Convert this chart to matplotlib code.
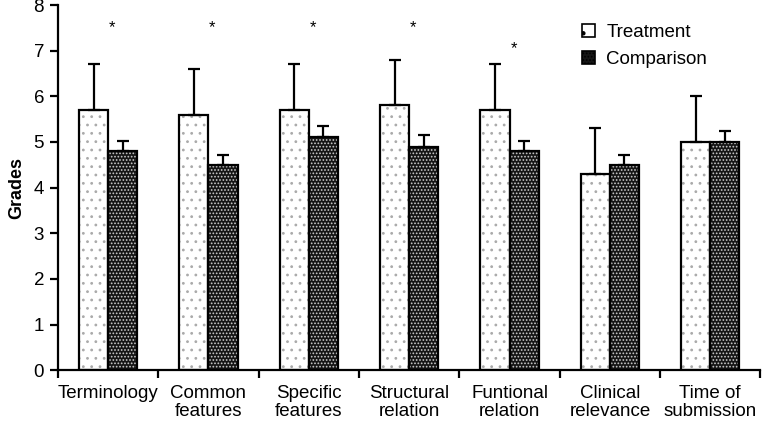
import numpy as np
import matplotlib
matplotlib.use('Agg')
import matplotlib.pyplot as plt
from matplotlib.patches import Patch

plt.rcParams['font.family'] = ['Liberation Sans', 'DejaVu Sans']
plt.rcParams['hatch.linewidth'] = 0.8

categories = ['Terminology', 'Common\nfeatures', 'Specific\nfeatures', 'Structural\nrelation',
              'Funtional\nrelation', 'Clinical\nrelevance', 'Time of\nsubmission']
treatment = [5.7, 5.6, 5.7, 5.8, 5.7, 4.3, 5.0]
treatment_err = [1.0, 1.0, 1.0, 1.0, 1.0, 1.0, 1.0]
comparison = [4.8, 4.5, 5.1, 4.9, 4.8, 4.5, 5.0]
comparison_err = [0.23, 0.22, 0.25, 0.25, 0.23, 0.22, 0.25]
star_y = [7.5, 7.5, 7.5, 7.5, 7.05]

fig = plt.figure(figsize=(7.62, 4.24), dpi=100)
ax = fig.add_axes([0.076, 0.127, 0.922, 0.861])
x = np.arange(len(categories))
w = 0.29
n = len(categories)

# hatched fills
ax.bar(x - w/2, treatment, w, color='white', edgecolor='#aaaaaa', hatch='..', linewidth=0)
ax.bar(x + w/2, comparison, w, color='#151515', edgecolor='#cccccc', hatch='.....', linewidth=0)
# outlines + error bars (upper only)
ekw = dict(capsize=4, elinewidth=1.6, capthick=1.6, ecolor='black')
ax.bar(x - w/2, treatment, w, fill=False, edgecolor='black', linewidth=1.6,
       yerr=[[0] * n, treatment_err], error_kw=ekw)
ax.bar(x + w/2, comparison, w, fill=False, edgecolor='black', linewidth=1.6,
       yerr=[[0] * n, comparison_err], error_kw=ekw)

for i, y in enumerate(star_y):
    ax.text(i + 0.04, y, '*', ha='center', va='center', fontsize=12)

# legend proxies
h1 = Patch(facecolor='white', edgecolor='black', hatch='.', linewidth=1.2)
h2 = Patch(facecolor='#151515', edgecolor='black', hatch='.....', linewidth=1.2)
ax.legend([h1, h2], ['Treatment', 'Comparison'], loc='upper right', bbox_to_anchor=(0.935, 0.97),
          frameon=False, fontsize=13.5, handlelength=0.7, handleheight=0.7, handletextpad=0.6,
          labelspacing=0.55, borderaxespad=0)

ax.set_xlim(-0.5, n - 0.5)
ax.set_ylim(0, 8)
ax.set_yticks(range(9))
ax.set_xticks(x)
ax.set_xticklabels(categories, fontsize=13.5, linespacing=1.05)
ax.set_xticks(np.arange(-0.5, n), minor=True)
ax.tick_params(axis='x', which='major', length=0, pad=11)
ax.tick_params(axis='x', which='minor', length=6, width=1.6, direction='out')
ax.tick_params(axis='y', length=6, width=1.6, direction='out', labelsize=13.5, pad=4)
ax.spines['top'].set_visible(False)
ax.spines['right'].set_visible(False)
ax.spines['left'].set_linewidth(1.6)
ax.spines['bottom'].set_linewidth(1.6)
ax.set_ylabel('Grades', fontsize=13, fontweight='bold', labelpad=6)

plt.savefig('out.png')
